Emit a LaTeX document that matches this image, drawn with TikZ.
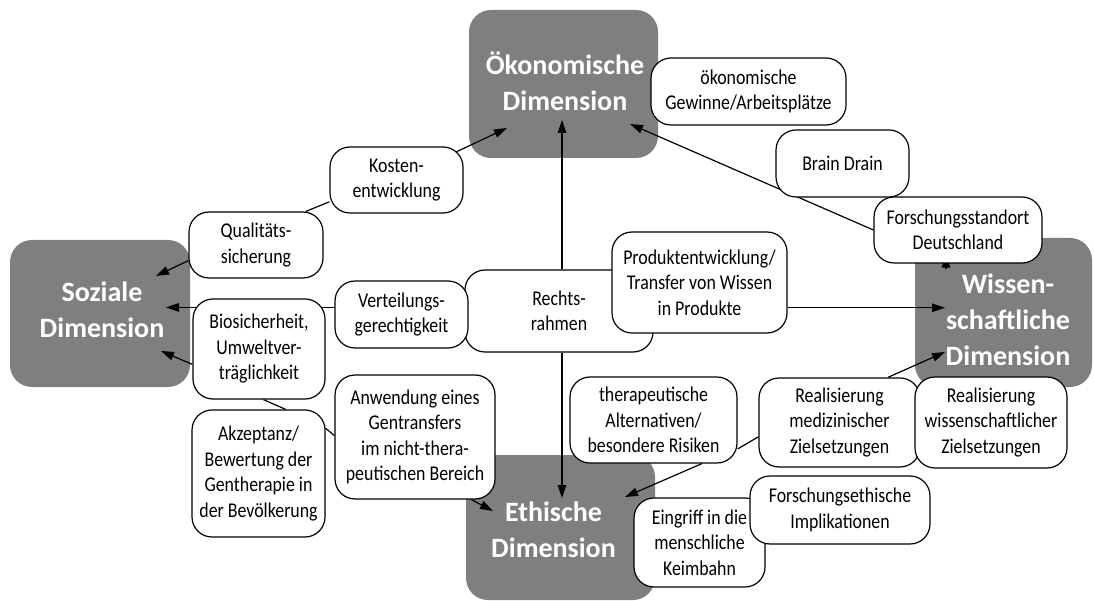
\documentclass[tikz,border=0pt]{standalone}
\usepackage{fontspec}
\newfontfamily\dimfont{Carlito}
\newfontfamily\topicfont{Carlito}[FakeStretch=0.85]
\usetikzlibrary{arrows.meta}
\definecolor{dimGray}{RGB}{127,127,127}
\pgfdeclarelayer{dims}
\pgfdeclarelayer{links}
\pgfsetlayers{dims,links,main}
\tikzset{
  dimBox/.style={rectangle, rounded corners=22pt, fill=dimGray},
  dimText/.style={text=white, align=center, inner sep=0pt,
    font={\dimfont\bfseries\fontsize{28}{36}\selectfont}},
  topicBox/.style={rectangle, rounded corners=20pt, fill=white, draw, line width=1.2pt, align=center, inner sep=2pt,
    font={\topicfont\fontsize{21}{25.5}\selectfont}},
%  topicBoxShadow/.style={topicBox, drop shadow},
  link/.style={line width=1.2pt},
  linkArr/.style={line width=1.2pt, -{Triangle[length=13pt,width=8.5pt]}}
}

\begin{document}
\begin{tikzpicture}[x=1pt, y=-1pt]
\useasboundingbox (0,0) rectangle (1094,601);

% the four dimensions
\begin{pgfonlayer}{dims}
  \node [dimBox, minimum width=189pt, minimum height=148pt,
    label={[dimText, xshift=1.5pt, yshift=3pt]center:{Ökonomische\\Dimension}}] (oek) at (563.5,84) {};
  \node [dimBox, minimum width=180pt, minimum height=147pt,
    label={[dimText, xshift=2pt, yshift=3.5pt]center:{Soziale\\Dimension}}] (soz) at (100,313.5) {};
  \node [dimBox, minimum width=177pt, minimum height=149pt,
    label={[dimText, xshift=4.5pt, yshift=-7.5pt]center:{Wissen-\\schaftliche\\Dimension}}] (wiss) at (1003.5,312.5) {};
  \node [dimBox, minimum width=189pt, minimum height=145pt,
    label={[dimText, xshift=-7pt, yshift=-2.5pt]center:{Ethische\\Dimension}}] (eth) at (560.5,527.5) {};
\end{pgfonlayer}

% topics
\node [topicBox, minimum width=133pt, minimum height=66pt] (kosten) at (396.5,180) {Kosten-\\entwicklung};
\node [topicBox, minimum width=134pt, minimum height=66pt] (qual) at (256,245) {Qualitäts-\\sicherung};
\node [topicBox, minimum width=195pt, minimum height=67pt] (gewinne) at (748.5,91.5) {ökonomische\\Gewinne/Arbeitsplätze};
\node [topicBox, minimum width=133pt, minimum height=67pt] (brain) at (842.5,163.5) {Brain Drain};
\node [topicBox, minimum width=168pt, minimum height=66pt] (forsch) at (958,230) {Forschungsstandort\\Deutschland};
\node [topicBox, minimum width=188pt, minimum height=82pt] (rechts) at (559,311) {Rechts-\\rahmen};
\node [topicBox, minimum width=175pt, minimum height=101pt] (prod) at (699.5,282.5) {Produktentwicklung/\\Transfer von Wissen\\in Produkte};
\node [topicBox, minimum width=133pt, minimum height=67pt] (vert) at (401.5,314.5) {Verteilungs-\\gerechtigkeit};
\node [topicBox, minimum width=132pt, minimum height=100pt] (bio) at (259,349) {Biosicherheit,\\Umweltver-\\träglichkeit};
\node [topicBox, minimum width=133pt, minimum height=127pt] (akz) at (258.5,473.5) {Akzeptanz/\\Bewertung der\\Gentherapie in\\der Bevölkerung};
\node [topicBox, minimum width=160pt, minimum height=124pt] (anw) at (415,437) {Anwendung eines\\Gentransfers\\im nicht-thera-\\peutischen Bereich};
\node [topicBox, minimum width=167pt, minimum height=86pt] (ther) at (653.5,420) {therapeutische\\Alternativen/\\besondere Risiken};
\node [topicBox, minimum width=161pt, minimum height=89pt] (realmed) at (839.5,422.5) {Realisierung\\medizinischer\\Zielsetzungen};
\node [topicBox, minimum width=152pt, minimum height=91pt] (realwiss) at (991,422.5) {Realisierung\\wissenschaftlicher\\Zielsetzungen};
\node [topicBox, minimum width=131pt, minimum height=89pt] (eingriff) at (699.5,542.5) {Eingriff in die\\menschliche\\Keimbahn};
\node [topicBox, minimum width=180pt, minimum height=68pt] (fethik) at (840,510) {Forschungsethische\\Implikationen};

% connectors, under the topics
\begin{pgfonlayer}{links}
  \coordinate (oekTipA) at (507,128);
  \coordinate (oekTipB) at (562,120);
  \coordinate (oekTipC) at (630,124);
  \coordinate (sozTipA) at (156,276);
  \coordinate (sozTipB) at (166,307);
  \coordinate (sozTipC) at (161,351);
  \coordinate (ethTipA) at (562,498);
  \coordinate (ethTipB) at (493,511);
  \coordinate (ethTipC) at (625,497);
  \coordinate (wissTipA) at (945,307);
  \coordinate (wissTipB) at (945,352);
  \coordinate (wissUp) at (946,269);

  \draw [linkArr] (kosten.center) -- (oekTipA);
  \draw [link] (qual.34) -- (kosten.198);
  \draw [linkArr] (qual.193) -- (sozTipA);
  \draw [linkArr] (vert.174) -- (vert.174 -| sozTipB);
  \draw [linkArr] (bio.193) -- (sozTipC);
  \draw [link] (bio.275) -- (akz.67);
  \draw [link] (akz.34) -- (anw.179);
  \draw [linkArr] (anw.312) -- (ethTipB);
  \draw [linkArr] (rechts.north -| oekTipB) -- (oekTipB);
  \draw [linkArr] (rechts.south -| ethTipA) -- (ethTipA);
  \draw [linkArr] (prod.344) -- (prod.344 -| wissTipA);
  \draw [linkArr] (forsch.west) -- (oekTipC);
  \draw [linkArr, shorten >=-9pt] (wissUp) -- (wissUp |- forsch.south);
  \draw [linkArr] (realmed.43) -- (wissTipB);
  \draw [link] (ther.341) -- (realmed.190);
  \draw [linkArr] (ther.318) -- (ethTipC);
\end{pgfonlayer}
\end{tikzpicture}
\end{document}
